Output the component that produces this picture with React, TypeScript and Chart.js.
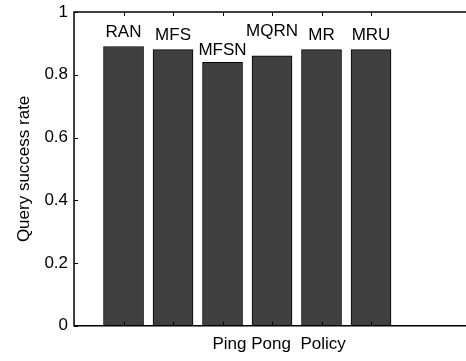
import React, { useEffect, useRef } from "react";
import { Chart, registerables } from "chart.js";

Chart.register(...registerables);

// ---- data ----
const categories = ["RAN", "MFS", "MFSN", "MQRN", "MR", "MRU"];
const barPositions = [1, 2, 3, 4, 5, 6];
const successRate = [0.89, 0.88, 0.84, 0.86, 0.88, 0.88];
// baseline (in data units) of each bar's text label
const labelBaseline = [0.921, 0.91, 0.862, 0.923, 0.91, 0.91];
const yTickValues = [0, 0.2, 0.4, 0.6, 0.8, 1];
const xMin = 0;
const xMax = 8;
const yTitle = "Query success rate";
const xTitle = "   Ping Pong  Policy";

const FONT_FAMILY = '"Liberation Sans", Arial, Helvetica, sans-serif';
const font17 = { family: FONT_FAMILY, size: 17 };

const framePlugin = {
  id: "frame",
  afterDatasetsDraw(chart: any) {
    const { ctx, chartArea: a, scales } = chart;
    const x = scales.x;
    const y = scales.y;
    ctx.save();
    // bar labels
    ctx.fillStyle = "#000";
    ctx.font = `17px ${FONT_FAMILY}`;
    ctx.textAlign = "center";
    ctx.textBaseline = "alphabetic";
    categories.forEach((c, i) => {
      ctx.fillText(c, x.getPixelForValue(barPositions[i]), y.getPixelForValue(labelBaseline[i]));
    });
    // axes box
    ctx.strokeStyle = "#000";
    ctx.lineWidth = 1.5;
    ctx.beginPath();
    ctx.rect(a.left, a.top, a.right - a.left, a.bottom - a.top);
    ctx.stroke();
    // inward ticks
    ctx.lineWidth = 1;
    const tl = 4;
    ctx.beginPath();
    yTickValues.forEach((v) => {
      const py = Math.round(y.getPixelForValue(v)) + 0.5;
      ctx.moveTo(a.left, py);
      ctx.lineTo(a.left + tl, py);
      ctx.moveTo(a.right, py);
      ctx.lineTo(a.right - tl, py);
    });
    barPositions.forEach((v) => {
      const px = Math.round(x.getPixelForValue(v)) + 0.5;
      ctx.moveTo(px, a.bottom);
      ctx.lineTo(px, a.bottom - tl);
      ctx.moveTo(px, a.top);
      ctx.lineTo(px, a.top + tl);
    });
    ctx.stroke();
    ctx.restore();
  },
};

export default function App() {
  const canvasRef = useRef<HTMLCanvasElement | null>(null);

  useEffect(() => {
    const canvas = canvasRef.current;
    if (!canvas) return;
    const chart = new Chart(canvas, {
      type: "bar",
      data: {
        datasets: [
          {
            data: barPositions.map((p, i) => ({ x: p, y: successRate[i] })),
            backgroundColor: "#404040",
            borderColor: "#000",
            borderWidth: 1,
            barThickness: 40,
          },
        ],
      },
      options: {
        animation: false,
        responsive: false,
        devicePixelRatio: 1,
        layout: { padding: { left: 8, right: 4, top: 12, bottom: 6.8 } },
        plugins: { legend: { display: false }, tooltip: { enabled: false } },
        scales: {
          x: {
            type: "linear",
            min: xMin,
            max: xMax,
            offset: false,
            grid: { display: false, drawTicks: false, offset: false },
            border: { display: false },
            ticks: { display: false },
            title: {
              display: true,
              text: xTitle,
              color: "#000",
              font: font17,
              padding: { top: 8, bottom: 0 },
            },
          },
          y: {
            type: "linear",
            min: 0,
            max: 1,
            afterBuildTicks: (s: any) => {
              s.ticks = yTickValues.map((v) => ({ value: v }));
            },
            afterFit: (s: any) => {
              s.paddingTop = 0;
              s.paddingBottom = 0;
            },
            grid: { display: false, drawTicks: false },
            border: { display: false },
            ticks: {
              color: "#000",
              font: font17,
              padding: 6,
              callback: (v: any) => String(Number(v)),
            },
            title: {
              display: true,
              text: yTitle,
              color: "#000",
              font: font17,
              padding: { top: 6, bottom: 4 },
            },
          },
        },
      },
      plugins: [framePlugin],
    });
    return () => chart.destroy();
  }, []);

  return (
    <div
      style={{
        position: "fixed",
        left: 0,
        top: 0,
        width: 466,
        height: 361,
        overflow: "hidden",
        background: "#fff",
      }}
    >
      <canvas ref={canvasRef} width={474} height={361} style={{ display: "block" }} />
    </div>
  );
}
